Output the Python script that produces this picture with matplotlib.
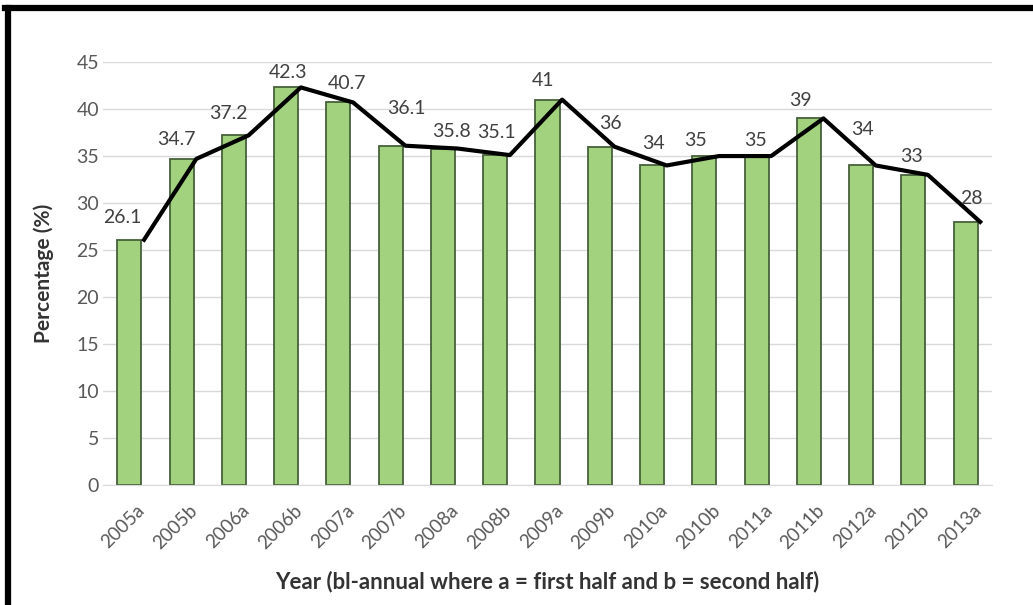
import matplotlib.pyplot as plt
import numpy as np
from matplotlib.lines import Line2D
from matplotlib.transforms import ScaledTranslation

periods = ['2005a', '2005b', '2006a', '2006b', '2007a', '2007b', '2008a', '2008b',
           '2009a', '2009b', '2010a', '2010b', '2011a', '2011b', '2012a', '2012b', '2013a']
values = [26.1, 34.7, 37.2, 42.3, 40.7, 36.1, 35.8, 35.1,
          41, 36, 34, 35, 35, 39, 34, 33, 28]
value_labels = ['26.1', '34.7', '37.2', '42.3', '40.7', '36.1', '35.8', '35.1',
                '41', '36', '34', '35', '35', '39', '34', '33', '28']
yticks = [0, 5, 10, 15, 20, 25, 30, 35, 40, 45]

# label nudges in points (dx, dy) so they clear the trend line
label_dx = [-5, -4, -4, 1, 6, 11, 6, 1, -3, 8, 1, -6, -1, -6, 1, -1, 4]
label_dy = [16, 14, 16, 11, 14, 27, 12, 16, 14, 17, 16, 11, 11, 13, 26, 13, 17]

plt.rcParams['font.family'] = ['Lato', 'DejaVu Sans']

fig = plt.figure(figsize=(10.33, 6.05), dpi=100)
ax = fig.add_axes([0.1, 0.198, 0.86, 0.6995])

x = np.arange(len(periods))
ax.bar(x, values, width=0.46, color='#a3d27f', edgecolor='#46603a', linewidth=1.3, zorder=2)
# trend line runs just right of each bar's top
ax.plot(x + 0.28, values, color='black', linewidth=3, zorder=3)

for xi, v, lab, dx, dy in zip(x, values, value_labels, label_dx, label_dy):
    ax.annotate(lab, (xi, v), xytext=(dx, dy), textcoords='offset points',
                ha='center', va='center', fontsize=14, color='#404040', zorder=4)

ax.set_xlim(-0.5, 16.5)
ax.set_ylim(0, 45)
ax.set_yticks(yticks)
ax.set_xticks(x)
ax.set_xticklabels(periods, rotation=45, ha='center', va='top')
ax.tick_params(axis='both', length=0, colors='#595959')
ax.tick_params(axis='y', pad=3, labelsize=14)
ax.tick_params(axis='x', pad=12, labelsize=13.5)
shift = ScaledTranslation(-6 / 100, 0, fig.dpi_scale_trans)
for t in ax.get_xticklabels():
    t.set_transform(t.get_transform() + shift)
ax.grid(axis='y', color='#d9d9d9', linewidth=1, zorder=0)
for s in ['top', 'right', 'left']:
    ax.spines[s].set_visible(False)
ax.spines['bottom'].set_color('#d9d9d9')

ax.set_ylabel('Percentage (%)', fontsize=15, fontweight='bold', color='#333333', labelpad=16)
ax.set_xlabel('Year (bl-annual where a = first half and b = second half)',
              fontsize=16, fontweight='bold', color='#333333', labelpad=13)

# black frame on the left and top edges
fig.add_artist(Line2D([8 / 1033, 8 / 1033], [0, 1 - 8 / 605], transform=fig.transFigure,
                      color='black', linewidth=4.5))
fig.add_artist(Line2D([5 / 1033, 1], [1 - 8 / 605, 1 - 8 / 605], transform=fig.transFigure,
                      color='black', linewidth=4.5))

fig.savefig('out.png', dpi=100)
